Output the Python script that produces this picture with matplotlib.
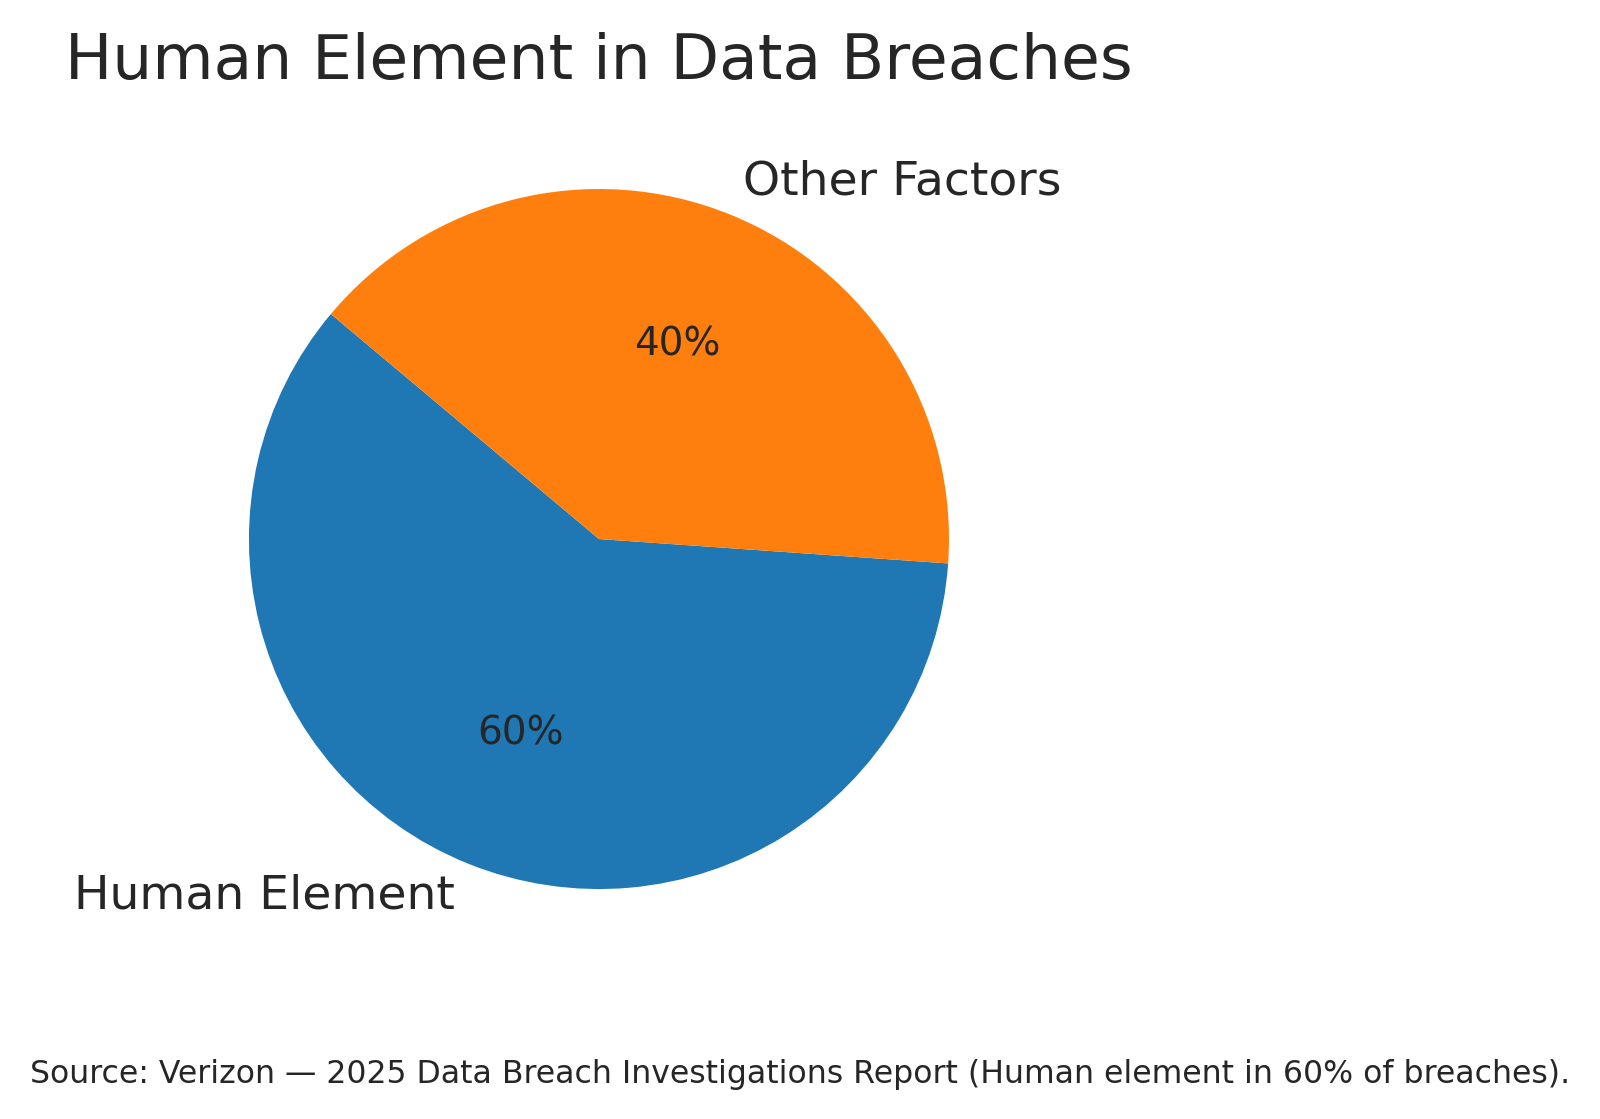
import matplotlib
matplotlib.use("Agg")
from matplotlib import pyplot as plt
import seaborn as sns

sns.set_style("white")
plt.rcParams['font.family'] = ['DejaVu Sans']

labels = ['Human Element', 'Other Factors']
shares = [60, 40]
colors = ['#1f77b4', '#ff7f0e']
title = 'Human Element in Data Breaches'
source = 'Source: Verizon \u2014 2025 Data Breach Investigations Report (Human element in 60% of breaches).'

fig = plt.figure(figsize=(8, 5.595), dpi=200)
ax = fig.add_axes([0.1009, 0.1273, 0.5469, 0.782])

wedges, texts, autotexts = ax.pie(shares, labels=labels, colors=colors,
                                  autopct='%1.0f%%', startangle=140,
                                  wedgeprops={'linewidth': 0},
                                  textprops={'color': '#262626'})
for t in texts:
    t.set_fontsize(17)
for t in autotexts:
    t.set_fontsize(14)
ax.set_aspect('equal')

ax.set_title(title, fontsize=22.7, color='#262626', pad=8)
fig.text(0.5, 0.032, source, ha='center', va='baseline', fontsize=11.35, color='#262626')

plt.savefig('out.png', dpi=200)
